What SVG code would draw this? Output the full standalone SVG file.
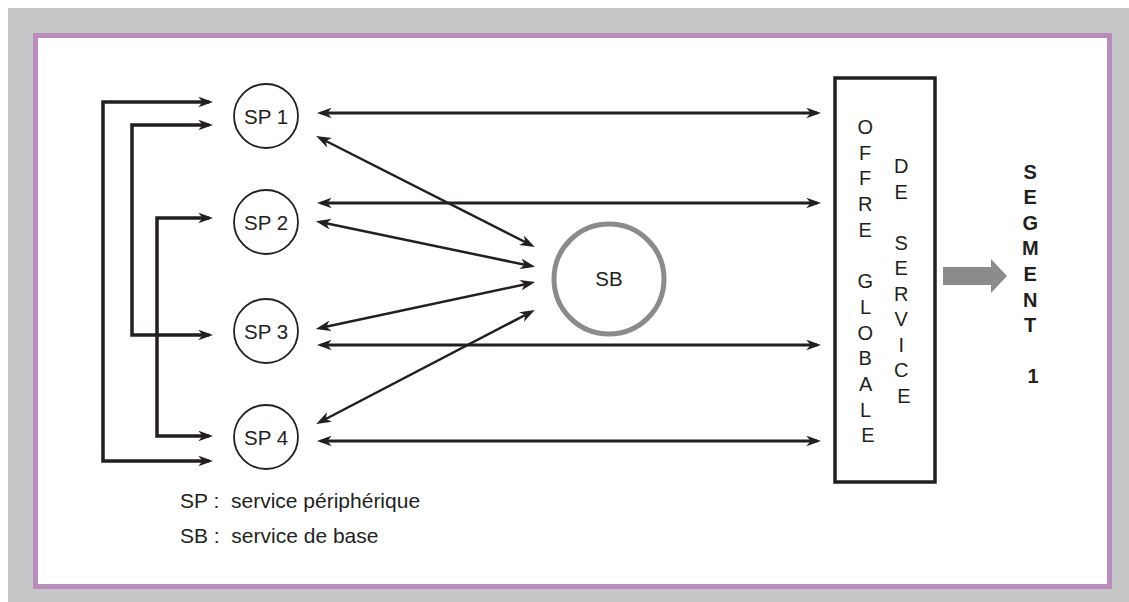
<svg xmlns="http://www.w3.org/2000/svg" width="1129" height="602" viewBox="0 0 1129 602">
  <style>
    .txt { font-family: "Liberation Sans", Arial, sans-serif; fill: #231f20; }
    .lbl { font-size: 20.5px; text-anchor: middle; }
    .col { font-size: 20px; text-anchor: middle; }
    .sp { fill: #ffffff; stroke: #231f20; stroke-width: 1.8; }
    .link { fill: none; stroke: #231f20; stroke-width: 3; }
    .loop { fill: none; stroke: #231f20; stroke-width: 3.5; }
    .diag { fill: none; stroke: #231f20; stroke-width: 2.5; }
  </style>
  <defs>
    <marker id="head" viewBox="0 0 14 10" refX="10" refY="5" markerWidth="15" markerHeight="11" markerUnits="userSpaceOnUse" orient="auto-start-reverse">
      <path d="M0,0 L14,5 L0,10 L4,5 z" fill="#231f20"/>
    </marker>
  </defs>

  <!-- frame -->
  <rect x="8" y="8" width="1121" height="594" fill="#c6c7c9"/>
  <rect x="35.5" y="35.5" width="1074" height="551" fill="#ffffff" stroke="#b98cbb" stroke-width="5"/>

  <!-- connectors -->
  <g id="connectors">
    <!-- feedback loops on the left -->
    <polyline class="loop" points="209,102 103,102 103,461 209,461" marker-start="url(#head)" marker-end="url(#head)"/>
    <polyline class="loop" points="209,125 132,125 132,335 209,335" marker-start="url(#head)" marker-end="url(#head)"/>
    <polyline class="loop" points="209,218 157,218 157,436 209,436" marker-start="url(#head)" marker-end="url(#head)"/>

    <!-- SP to global offer -->
    <line class="link" x1="321" y1="113" x2="817" y2="113" marker-start="url(#head)" marker-end="url(#head)"/>
    <line class="link" x1="321" y1="203" x2="817" y2="203" marker-start="url(#head)" marker-end="url(#head)"/>
    <line class="link" x1="321" y1="345" x2="817" y2="345" marker-start="url(#head)" marker-end="url(#head)"/>
    <line class="link" x1="321" y1="441" x2="817" y2="441" marker-start="url(#head)" marker-end="url(#head)"/>

    <!-- SP to SB -->
    <line class="diag" x1="320" y1="138" x2="531" y2="245" marker-start="url(#head)" marker-end="url(#head)"/>
    <line class="diag" x1="320" y1="222" x2="531" y2="266" marker-start="url(#head)" marker-end="url(#head)"/>
    <line class="diag" x1="320" y1="328" x2="531" y2="283" marker-start="url(#head)" marker-end="url(#head)"/>
    <line class="diag" x1="320" y1="422" x2="531" y2="312" marker-start="url(#head)" marker-end="url(#head)"/>

    <!-- offer to segment -->
    <path d="M943,267 L991,267 L991,259 L1007,276 L991,293 L991,285 L943,285 z" fill="#8a8b8d"/>
  </g>

  <g id="sp1">
    <circle class="sp" cx="266" cy="116" r="32"/>
    <text class="txt lbl" x="266" y="123.5">SP 1</text>
  </g>
  <g id="sp2">
    <circle class="sp" cx="266" cy="222" r="32"/>
    <text class="txt lbl" x="266" y="229.5">SP 2</text>
  </g>
  <g id="sp3">
    <circle class="sp" cx="266" cy="331" r="32"/>
    <text class="txt lbl" x="266" y="338.5">SP 3</text>
  </g>
  <g id="sp4">
    <circle class="sp" cx="266" cy="437" r="32"/>
    <text class="txt lbl" x="266" y="444.5">SP 4</text>
  </g>

  <g id="sb">
    <circle cx="609" cy="279" r="55" fill="#ffffff" stroke="#8a8b8d" stroke-width="5"/>
    <text class="txt lbl" x="609" y="286">SB</text>
  </g>

  <g id="offre">
    <rect x="835" y="78" width="100" height="404" fill="#ffffff" stroke="#231f20" stroke-width="3.5"/>
    <text class="txt col">
      <tspan x="868" y="134">O</tspan>
      <tspan x="868" dy="25.7">F</tspan>
      <tspan x="868" dy="25.7">F</tspan>
      <tspan x="868" dy="25.7">R</tspan>
      <tspan x="868" dy="25.7">E</tspan>
      <tspan x="868" dy="51.4">G</tspan>
      <tspan x="868" dy="25.7">L</tspan>
      <tspan x="868" dy="25.7">O</tspan>
      <tspan x="868" dy="25.7">B</tspan>
      <tspan x="868" dy="25.7">A</tspan>
      <tspan x="868" dy="25.7">L</tspan>
      <tspan x="868" dy="25.7">E</tspan>
    </text>
    <text class="txt col">
      <tspan x="904" y="173">D</tspan>
      <tspan x="904" dy="25.5">E</tspan>
      <tspan x="904" dy="51">S</tspan>
      <tspan x="904" dy="25.5">E</tspan>
      <tspan x="904" dy="25.5">R</tspan>
      <tspan x="904" dy="25.5">V</tspan>
      <tspan x="904" dy="25.5">I</tspan>
      <tspan x="904" dy="25.5">C</tspan>
      <tspan x="904" dy="25.5">E</tspan>
    </text>
  </g>

  <g id="segment">
    <text class="txt col" font-weight="bold">
      <tspan x="1033" y="178.5">S</tspan>
      <tspan x="1033" dy="25.6">E</tspan>
      <tspan x="1033" dy="25.6">G</tspan>
      <tspan x="1033" dy="25.6">M</tspan>
      <tspan x="1033" dy="25.6">E</tspan>
      <tspan x="1033" dy="25.6">N</tspan>
      <tspan x="1033" dy="25.6">T</tspan>
      <tspan x="1033" dy="51.2">1</tspan>
    </text>
  </g>

  <g id="legend">
    <text class="txt" x="180" y="508" font-size="21" xml:space="preserve">SP :  service périphérique</text>
    <text class="txt" x="180" y="543" font-size="21" xml:space="preserve">SB :  service de base</text>
  </g>
</svg>
